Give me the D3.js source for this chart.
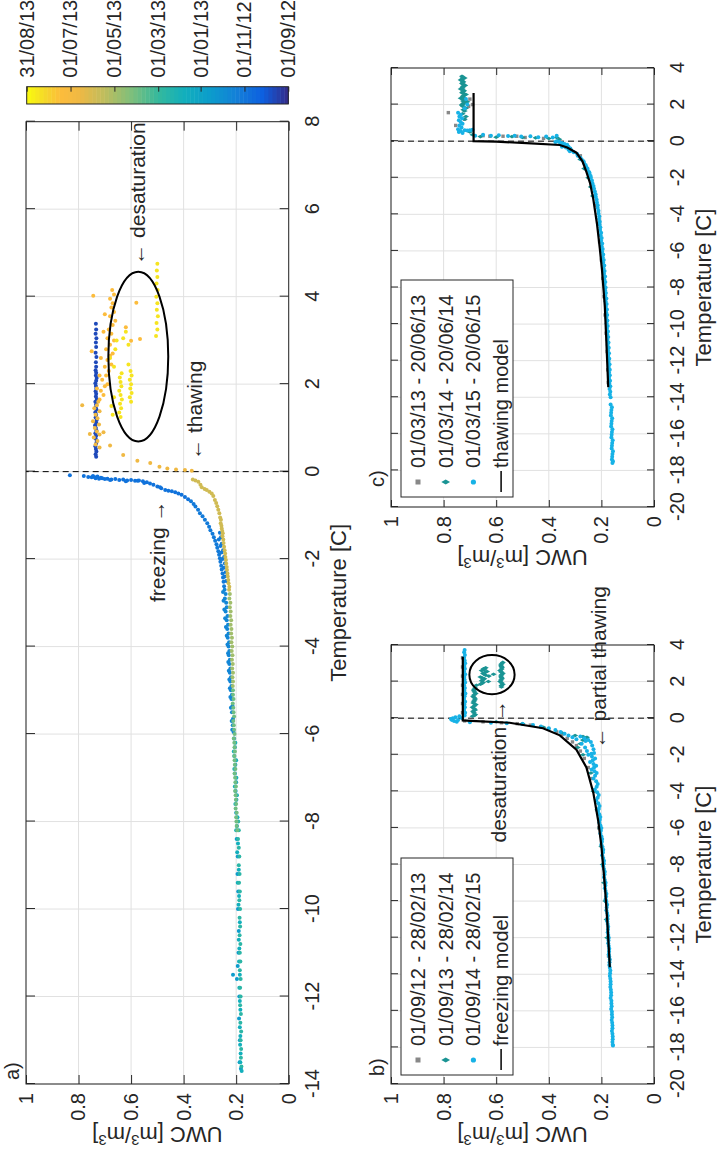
<!DOCTYPE html>
<meta charset="utf-8">
<script src="https://d3js.org/d3.v7.min.js"></script>
<style>
  body { margin: 0; background: #fff; }
  text { font-family: "Liberation Sans", Arial, Helvetica, sans-serif; fill: #262626; }
</style>
<div id="vis"></div>
<script>

// ---------- data: panel a, points [temperature, UWC], one date per group ----------
var sep12Pts = [[0.34,.733],[0.4,.735],[0.46,.732],[0.52,.734],[0.58,.736],[0.64,.733],[0.7,.731],[0.76,.735],[0.82,.733],[0.88,.736],
  [0.94,.732],[1.0,.734],[1.06,.737],[1.12,.733],[1.18,.731],[1.24,.735],[1.3,.733],[1.36,.736],[1.42,.732],[1.48,.734],[1.54,.733],
  [1.6,.736],[1.66,.731],[1.72,.734],[1.78,.733],[1.84,.735],[1.9,.732],[1.96,.734],[2.02,.736],[2.08,.733],[2.14,.731],[2.2,.734],
  [2.26,.733],[2.32,.735],[2.4,.733],[2.5,.734],[2.62,.732],[2.72,.735],[2.85,.733],[2.95,.734],[3.05,.732],[3.15,.735],[3.25,.733],[3.38,.734]];
var freezeTopPts = [[-0.08,.833],[-0.1,.78],[-0.12,.763],[-0.1,.745],[-0.13,.738],[-0.15,.735],[-0.11,.728],[-0.16,.722],[-0.14,.715],
  [-0.17,.70],[-0.16,.69],[-0.18,.675],[-0.17,.66],[-0.19,.645],[-0.18,.63],[-0.2,.615],[-0.19,.60],[-0.21,.585],[-0.2,.57],[-0.22,.555],
  [-0.24,.54],[-0.27,.528],[-0.3,.515],[-0.34,.50],[-0.38,.485],[-0.42,.47],[-0.44,.458],[-0.45,.445],[-0.47,.432],[-0.5,.42],
  [-0.53,.408],[-0.58,.395],[-0.63,.383],[-0.13,.75],[-0.15,.71],[-0.19,.68],[-0.22,.62],[-0.21,.575],[-0.26,.55],[-0.36,.49]];
var freezeMidPts = [[-0.68,.372],[-0.74,.362],[-0.8,.355],[-0.87,.345],[-0.95,.338],[-1.02,.328],[-1.1,.319],[-1.18,.31],[-1.26,.303],
  [-1.34,.298],[-1.42,.29],[-1.5,.285],[-1.58,.28],[-1.66,.275],[-1.74,.272],[-1.82,.268],[-1.9,.265],[-1.98,.262],[-2.06,.26],
  [-2.15,.257],[-2.24,.255],[-2.33,.252],[-2.42,.25],[-2.52,.248],[-2.62,.246],[-1.4,.262],[-1.5,.258],[-1.65,.255],[-1.8,.25],
  [-1.95,.246],[-2.1,.243],[-2.3,.24],[-2.5,.238],[-1.55,.266],[-2.0,.252],[-1.7,.26],[-1.85,.256],[-2.2,.247],[-2.4,.244]];
var freezeColdPts = [[-2.7,.244],[-2.8,.24],[-2.9,.243],[-3.0,.238],[-3.1,.236],[-3.2,.24],[-3.3,.233],[-3.4,.236],[-3.5,.231],[-3.6,.234],
  [-3.7,.229],[-3.8,.232],[-3.9,.227],[-4.0,.229],[-4.1,.226],[-4.2,.228],[-4.3,.224],[-4.4,.226],[-4.5,.222],[-4.6,.224],[-4.7,.22],
  [-4.8,.222],[-4.9,.218],[-5.0,.22],[-5.1,.216],[-5.2,.218],[-5.35,.214],[-5.5,.216],[-5.65,.212],[-5.8,.213],[-5.95,.21],
  [-2.75,.25],[-2.95,.248],[-3.15,.245],[-3.35,.242],[-3.55,.239],[-3.75,.236],[-3.95,.233],[-4.15,.231],[-4.35,.23],[-4.55,.228],
  [-4.75,.226],[-4.95,.224],[-5.15,.222],[-5.4,.22],[-5.7,.217],[-5.9,.215]];
var winterPts = [[-6.1,.208],[-6.3,.205],[-6.5,.207],[-6.7,.203],[-6.9,.205],[-7.1,.2],[-7.3,.202],[-7.5,.199],[-7.8,.2],[-8.1,.197],
  [-8.4,.198],[-8.8,.194],[-9.2,.195],[-9.6,.192],[-10.0,.193],[-10.5,.19],[-11.0,.191],[-11.3,.194],[-11.5,.212],[-11.6,.197],
  [-12.0,.188],[-12.5,.189],[-13.0,.186],[-13.5,.187],[-13.65,.182]];
var midWinterPts = [[-6.2,.203],[-6.4,.209],[-6.6,.2],[-6.8,.207],[-7.0,.199],[-7.2,.205],[-7.4,.197],[-7.6,.203],[-7.9,.195],[-8.2,.2],
  [-8.5,.193],[-8.7,.196],[-9.1,.19],[-9.4,.194],[-9.7,.189],[-9.9,.191],[-10.3,.186],[-10.7,.19],[-10.9,.188],[-11.2,.189],
  [-11.5,.186],[-11.8,.188],[-12.1,.186],[-12.3,.184],[-12.7,.186],[-12.9,.184],[-13.1,.185],[-13.3,.183],[-13.5,.184],[-13.7,.179]];
var lateWinterPts = [[-8.0,.192],[-8.2,.19],[-8.4,.193],[-8.6,.19],[-8.8,.188],[-9.0,.19],[-9.2,.187],[-9.4,.189],[-9.6,.186],[-9.8,.188],
  [-10.0,.185],[-10.2,.187],[-10.4,.185],[-10.6,.187],[-10.8,.184],[-11.0,.186],[-11.2,.184],[-11.4,.186],[-11.6,.183],[-11.8,.185],
  [-12.0,.183],[-12.2,.185],[-12.4,.182],[-12.6,.184],[-12.8,.181],[-13.0,.183],[-13.2,.181],[-13.4,.182],[-13.6,.18]];
var springPts = [[-5.0,.212],[-5.2,.21],[-5.4,.211],[-5.6,.208],[-5.8,.209],[-6.0,.206],[-6.2,.207],[-6.4,.205],[-6.6,.206],[-6.8,.203],
  [-7.0,.204],[-7.2,.201],[-7.4,.202],[-7.6,.2],[-7.8,.198],[-8.0,.199],[-8.2,.196],[-5.1,.212],[-5.3,.213],[-5.5,.21],[-5.7,.211],
  [-5.9,.208],[-6.1,.209],[-6.3,.206],[-6.5,.207],[-6.7,.205],[-6.9,.206],[-7.1,.203],[-7.3,.204],[-7.5,.201],[-7.7,.202],[-7.9,.2],[-8.1,.198]];
var aprilPts = [[-2.8,.224],[-3.0,.222],[-3.2,.221],[-3.4,.219],[-3.6,.218],[-3.8,.216],[-4.0,.215],[-4.2,.214],[-4.4,.213],[-4.6,.212],
  [-4.8,.212],[-2.9,.226],[-3.1,.224],[-3.3,.222],[-3.5,.221],[-3.7,.219],[-3.9,.218],[-4.1,.217],[-4.3,.216],[-4.5,.215],[-4.7,.214],[-4.9,.213]];
var mayPts = [[-0.18,.365],[-0.2,.355],[-0.23,.344],[-0.3,.336],[-0.36,.331],[-0.4,.32],[-0.42,.312],[-0.46,.302],[-0.5,.293],[-0.56,.287],
  [-0.65,.281],[-0.72,.276],[-0.79,.272],[-0.87,.268],[-0.95,.264],[-1.05,.261],[-1.18,.259],[-1.3,.255],[-1.41,.251],[-1.55,.249],
  [-1.72,.246],[-1.87,.242],[-2.02,.239],[-2.18,.236],[-2.33,.233],[-2.48,.23],[-2.63,.226],[-1.1,.258],[-1.24,.256],[-1.36,.253],
  [-1.48,.252],[-1.63,.248],[-1.8,.244],[-1.95,.241],[-2.1,.238],[-2.25,.235],[-2.4,.232],[-2.55,.229],[-2.7,.227]];
var junePts = [[0.02,.369],[0.04,.395],[0.05,.429],[0.07,.462],[0.11,.492],[0.2,.527],[0.25,.576],[0.38,.63],[0.55,.72],[0.62,.735],
  [0.7,.728],[0.78,.742],[0.85,.72],[0.92,.73],[1.0,.738],[1.08,.722],[1.15,.745],[1.22,.728],[1.3,.735],[1.38,.72],[1.45,.74],
  [1.52,.73],[1.6,.725],[0.86,.757],[0.6,.68],[1.52,.786],[0.9,.705]];
var julyPts = [[1.65,.72],[1.75,.705],[1.85,.715],[1.95,.7],[2.0,.69],[2.1,.71],[2.2,.695],[2.3,.685],[2.4,.7],[2.45,.675],[2.55,.69],
  [2.65,.68],[2.75,.75],[2.7,.67],[2.8,.695],[2.9,.68],[3.0,.665],[3.05,.69],[3.15,.675],[3.25,.685],[3.35,.67],[3.45,.66],[3.55,.68],
  [3.65,.665],[3.75,.675],[3.85,.67],[3.95,.68],[4.05,.665],[4.15,.672],[4.02,.744],[3.86,.58],[3.03,.566],[3.3,.62],[2.99,.60],
  [2.6,.715],[2.2,.72],[1.9,.73],[3.6,.70],[3.2,.705]];
var augPts = [[3.1,.505],[3.25,.5],[3.4,.503],[3.55,.498],[3.7,.502],[3.85,.5],[4.0,.504],[4.15,.499],[4.3,.503],[4.45,.5],[4.6,.502],
  [4.75,.5],[1.25,.64],[1.35,.645],[1.45,.638],[1.55,.642],[1.65,.635],[1.75,.64],[1.85,.645],[1.95,.637],[2.05,.64],[2.15,.643],
  [2.25,.636],[1.6,.6],[1.7,.605],[1.8,.598],[1.9,.603],[2.0,.6],[2.1,.605],[2.2,.598],[2.3,.602],[1.3,.67],[1.5,.675],[1.7,.665],
  [2.4,.665],[2.6,.68],[2.8,.66],[3.0,.655],[3.2,.62],[3.05,.63],[2.9,.61],[2.45,.61]];
var groupDates = ["2012-09-22","2012-10-28","2012-11-06","2012-11-20","2012-12-20","2013-01-25","2013-02-20","2013-04-01","2013-04-28","2013-05-28","2013-06-22","2013-07-15","2013-08-15"];

// colorbar
var cbStart = "2012-09-01", cbEnd = "2013-08-31";
var cbTicks = ["2012-09-01","2012-11-01","2013-01-01","2013-03-01","2013-05-01","2013-07-01","2013-08-31"];

// ---------- data: panel b (freezing) ----------
var bGray = [[-0.15,.72],[-0.2,.65],[-0.25,.58],[-0.3,.52],[-0.38,.47],[-0.48,.43],[-0.6,.40],[-0.75,.37],[-0.9,.35],[-1.1,.33],[-1.3,.31],
  [-1.5,.295],[-1.8,.28],[-2.2,.265],[-2.7,.25],[-3.3,.24],[-4,.228],[-5,.218],[-6,.21],[-7,.2],[-8,.193],[-9,.188],[-10,.183],
  [-11,.18],[-12,.176],[-13,.173],[0.3,.728],[0.8,.728],[1.3,.728],[1.8,.728],[2.3,.728],[2.8,.728],[3.3,.728]];
var bTeal = [[0.1,.69],[0.2,.68],[0.3,.685],[0.45,.68],[0.6,.69],[0.75,.678],[0.9,.685],[1.05,.68],[1.2,.688],[1.35,.678],[1.5,.685],
  [1.65,.68],[1.8,.675],[0.15,.683],[0.38,.688],[0.52,.684],[0.68,.682],[0.83,.687],[0.98,.683],[1.13,.684],[1.28,.683],[1.43,.682],
  [1.58,.684],[1.85,.66],[1.95,.65],[2.05,.655],[2.15,.645],[2.25,.66],[2.35,.64],[2.45,.65],[2.55,.635],[2.65,.645],
  [2.75,.64],[2.0,.63],[2.3,.628],[2.6,.655],[1.9,.655],[2.1,.65],[2.2,.652],[2.4,.645],[2.5,.643],[2.7,.648],
  [1.7,.58],[1.85,.575],[2.0,.585],[2.15,.578],[2.3,.582],[2.45,.575],[2.6,.585],[2.75,.578],[2.9,.582],[3.05,.575],[2.4,.61],
  [1.78,.58],[1.93,.58],[2.08,.582],[2.23,.58],[2.38,.579],[2.53,.581],[2.68,.58],[2.83,.58],[2.98,.579],
  [-0.2,.6],[-0.3,.5],[-0.5,.42],[-0.8,.35],[-0.95,.3],[-1.0,.27],[-1.05,.255],
  [-1.1,.26],[-1.2,.27],[-1.4,.28],[-1.6,.29],[-2,.27],[-3,.24],[-4,.23],[-5,.215],[-6,.205],[-7,.2],[-8,.195],[-9,.19],[-10,.185],
  [-11,.18],[-12,.178]];
var bCyan = [[0.15,.72],[0.3,.718],[0.45,.722],[0.6,.719],[0.75,.721],[0.9,.718],[1.05,.722],[1.2,.72],[1.35,.717],[1.5,.721],
  [1.65,.719],[1.8,.722],[1.95,.718],[2.1,.72],[2.25,.721],[2.4,.718],[2.55,.722],[2.7,.719],[2.85,.721],[3.0,.718],[3.15,.72],
  [3.3,.722],[3.45,.719],[3.6,.722],[3.72,.72],[0.1,.74],[0.05,.755],[0,.765],[-0.05,.772],[-0.1,.768],[-0.15,.76],[-0.2,.75],
  [-0.1,.745],[0.0,.73],[-0.22,.7],[-0.25,.62],[-0.28,.56],[-0.32,.5],[-0.38,.46],[-0.45,.43],[-0.55,.4],[-0.65,.375],[-0.75,.355],
  [-0.85,.34],[-0.95,.325],[-1.05,.31],[-1.15,.295],[-1.0,.28],[-1.1,.265],[-1.2,.25],[-1.3,.24],[-1.25,.26],[-1.4,.275],[-1.5,.235],
  [-1.6,.262],[-1.7,.23],[-1.8,.255],[-1.9,.228],[-2.0,.25],[-2.2,.224],[-2.4,.243],[-2.6,.22],[-2.8,.237],[-3.0,.218],[-3.3,.23],
  [-3.6,.214],[-3.9,.225],[-4.2,.21],[-4.5,.22],[-4.8,.207],[-5.1,.213],[-5.4,.204],[-5.7,.208],[-6.0,.2],[-6.3,.204],[-6.6,.197],
  [-6.9,.2],[-7.2,.193],[-7.5,.197],[-7.8,.19],[-8.1,.193],[-8.4,.187],[-8.7,.19],[-9.0,.184],[-9.3,.187],[-9.6,.181],[-9.9,.184],
  [-10.2,.178],[-10.5,.181],[-10.8,.176],[-11.1,.178],[-11.4,.174],[-11.7,.176],[-12.0,.172],[-12.3,.174],[-12.6,.17],[-12.9,.172],
  [-13.2,.168],[-13.5,.17],[-13.8,.166],[-14.1,.168],[-14.4,.165],[-14.7,.166],[-15.0,.163],[-15.3,.165],[-15.6,.162],[-15.9,.163],
  [-16.2,.16],[-16.5,.161],[-16.8,.158],[-17.1,.16],[-17.4,.157],[-17.7,.158],[-17.9,.156],
  [-1.95,.238],[-2.1,.236],[-2.3,.233],[-2.5,.23],[-2.7,.228],[-2.9,.226],[-3.15,.224],[-3.45,.22],[-3.75,.218],[-4.05,.216],
  [-4.35,.214],[-4.65,.212],[-4.95,.21],[-5.25,.208],[-5.55,.206],[-5.85,.204],[-6.15,.202],[-6.45,.2],[-6.75,.198],[-7.05,.196],
  [-7.35,.194],[-7.65,.193],[-7.95,.191],[-8.25,.19],[-8.55,.188],[-8.85,.187],[-9.15,.185],[-9.45,.184],[-9.75,.182],[-10.05,.181],
  [-10.35,.18],[-10.65,.178],[-10.95,.177],[-11.25,.176],[-11.55,.175],[-11.85,.174],[-12.15,.173],[-12.45,.172],[-12.75,.171],
  [-13.05,.17],[-13.35,.169],[-13.65,.168],[-13.95,.167],[-14.25,.166],[-14.55,.165],[-14.85,.164],[-15.15,.163],[-15.45,.162],
  [-15.75,.161],[-16.05,.16],[-16.35,.159],[-16.65,.159],[-16.95,.158],[-17.25,.158],[-17.55,.157],[-17.85,.157]];
var freezeModel = [[-13.62,.168],[-11,.178],[-9.13,.187],[-7,.2],[-5.62,.212],[-4.06,.231],[-2.69,.257],[-1.72,.295],[-0.94,.358],
  [-0.55,.422],[-0.25,.549],[-0.16,.676],[-0.12,.727],[0,.727],[3.36,.727]];
var bLegend = ["01/09/12 - 28/02/13","01/09/13 - 28/02/14","01/09/14 - 28/02/15","freezing model"];

// ---------- data: panel c (thawing) ----------
var cGray = [[1.56,.782],[0.86,.754],[2.3,.70],[1.9,.705],[0.3,.65],[0.27,.624],[0.27,.574],[0.27,.522],[0.2,.49],[0.15,.42],
  [-0.3,.33],[-0.8,.28],[-1.5,.26],[-2.5,.235],[-3.5,.222],[-4.5,.214],[-5.5,.207],[-6.5,.2],[-7.5,.195],[-8.5,.19],[-9.5,.186],
  [-10.5,.182],[-11.5,.178],[-12.5,.176],[-13.2,.174],[2.0,.69],[1.2,.72]];
var cTeal = [[3.55,.73],[3.45,.72],[3.35,.735],[3.25,.725],[3.15,.73],[3.05,.718],[2.95,.728],[2.85,.735],[2.75,.722],[2.65,.73],
  [2.55,.715],[2.45,.727],[2.35,.735],[2.25,.72],[2.15,.71],[2.05,.725],[1.95,.73],[1.8,.715],[1.65,.72],[1.5,.728],[1.35,.715],
  [1.2,.72],[3.5,.727],[3.4,.728],[3.3,.73],[3.2,.727],[3.1,.725],[3.0,.726],[2.9,.728],[2.8,.727],[2.7,.726],[2.6,.724],[2.5,.723],
  [2.4,.725],[2.3,.727],[2.2,.726],[2.1,.722],[2.0,.73],[1.9,.726],[1.72,.725],
  [0.5,.70],[0.35,.69],[0.25,.66],[0.22,.6],[0.25,.54],[0.2,.5],[0.18,.45],[0.15,.4],[0.2,.37],[0.1,.36],[-1,.28],
  [-1.5,.265],[-2,.25],[-2.5,.24],[-3,.232]];
var cCyan = [[1.55,.745],[1.45,.735],[1.35,.74],[1.25,.73],[1.15,.742],[1.05,.735],[0.95,.728],[0.85,.74],[0.75,.732],[0.65,.745],
  [0.6,.72],[0.6,.70],[0.55,.735],[0.5,.742],[0.45,.728],[2.0,.71],[2.3,.715],[1.8,.72],[0.62,.69],[0.58,.71],[0.3,.68],[0.35,.65],
  [0.3,.62],[0.32,.59],[0.28,.555],[0.3,.53],[0.25,.505],[0.27,.47],[0.22,.44],[0.25,.41],[0.2,.385],[0.3,.37],[0,.37],[-0.05,.36],
  [-0.1,.35],[-0.15,.34],[-0.2,.33],[-0.25,.345],[-0.3,.325],[-0.35,.335],[-0.4,.318],[-0.45,.325],[-0.5,.315],[-0.55,.32],
  [-0.05,.375],[-0.15,.355],[-0.3,.35],[-0.6,.305],[-0.8,.29],[-1.0,.275],[-1.2,.266],[-1.4,.258],[-1.6,.252],[-1.8,.245],[-2.0,.24],
  [-2.3,.234],[-2.6,.228],[-2.9,.222],[-3.2,.218],[-3.5,.214],[-3.8,.211],[-4.1,.208],[-4.4,.206],[-4.7,.204],[-5.0,.201],[-5.3,.199],
  [-5.6,.197],[-5.9,.195],[-6.2,.193],[-6.5,.191],[-6.8,.189],[-7.1,.188],[-7.4,.186],[-7.7,.185],[-8.0,.184],[-8.3,.183],[-8.6,.181],
  [-8.9,.18],[-9.2,.179],[-9.5,.178],[-9.8,.177],[-10.1,.176],[-10.4,.175],[-10.7,.174],[-11.0,.173],[-11.3,.172],[-11.6,.171],
  [-11.9,.17],[-12.2,.169],[-12.5,.168],[-12.8,.168],[-13.1,.167],[-13.4,.166],[-13.7,.166],[-14.0,.165],[-14.4,.165],[-14.7,.162],
  [-15.0,.164],[-15.3,.161],[-15.6,.163],[-15.9,.16],[-16.2,.162],[-16.5,.159],[-16.8,.161],[-17.1,.158],[-17.4,.16],[-17.6,.158],
  [-0.7,.292],[-0.9,.28],[-1.1,.268],[-1.3,.26],[-1.5,.253],[-1.7,.246],[-1.9,.241],[-2.15,.236],[-2.45,.23],[-2.75,.225],
  [-3.05,.221],[-3.35,.217],[-3.65,.214],[-3.95,.211],[-4.25,.209],[-4.55,.207],[-4.85,.205],[-5.15,.203],[-5.45,.201],[-5.75,.199],
  [-6.05,.197],[-6.35,.195],[-6.65,.193],[-6.95,.192],[-7.25,.19],[-7.55,.189],[-7.85,.188],[-8.15,.186],[-8.45,.185],[-8.75,.184],
  [-9.05,.183],[-9.35,.182],[-9.65,.181],[-9.95,.18],[-10.25,.179],[-10.55,.178],[-10.85,.177],[-11.15,.176],[-11.45,.175],
  [-11.75,.174],[-12.05,.173],[-12.35,.172],[-12.65,.171],[-12.95,.171],[-13.25,.17],[-13.55,.169],[-13.85,.168],
  [-14.55,.16],[-14.85,.163],[-15.15,.159],[-15.45,.162],[-15.75,.158],[-16.05,.161],[-16.35,.157],[-16.65,.16],[-16.95,.156],
  [-17.25,.159],[-17.5,.156]];
var thawModel = [[-13.45,.174],[-11,.181],[-9.03,.187],[-7,.198],[-5.88,.206],[-4.5,.217],[-3.15,.231],[-2.3,.243],[-1.68,.257],
  [-1.1,.272],[-0.63,.295],[-0.35,.33],[-0.21,.358],[-0.105,.485],[-0.03,.6],[0,.686],[2.63,.686]];
var cLegend = ["01/03/13 - 20/06/13","01/03/14 - 20/06/14","01/03/15 - 20/06/15","thawing model"];

var uTicks = [0, 0.2, 0.4, 0.6, 0.8, 1];
var tTicksA = [-14,-12,-10,-8,-6,-4,-2,0,2,4,6,8];
var tTicksBC = [-20,-18,-16,-14,-12,-10,-8,-6,-4,-2,0,2,4];

// ---------- drawing ----------
var parula = d3.scaleLinear()
  .domain([0, .1, .2, .3, .4, .5, .6, .7, .8, .87, .93, 1])
  .range(["#352a87","#0d5fe0","#1380d8","#0c9ccc","#12afbc","#35b99d","#7dbf7c","#bcbd5f","#efb944","#fcbc3c","#f5d72a","#f9fb0e"]);
var parse = d3.timeParse("%Y-%m-%d");
var tScale = d3.scaleTime().domain([parse(cbStart), parse(cbEnd)]).range([0, 1]);

var svg = d3.select("#vis").append("svg").attr("width", 717).attr("height", 1159);
// whole figure is drawn landscape and turned a quarter turn
var root = svg.append("g").attr("transform", "translate(0,1159) rotate(-90)");
var ink = "#262626";

function panel(p) {
  var x = d3.scaleLinear().domain(p.tDom).range([p.left, p.right]);
  var y = d3.scaleLinear().domain([0, 1]).range([p.bottom, p.top]);
  var g = root.append("g");
  g.append("g").selectAll("line").data(p.tTicks).join("line")
    .attr("x1", d => x(d)).attr("x2", d => x(d)).attr("y1", p.top).attr("y2", p.bottom)
    .attr("stroke", "#e1e1e1");
  g.append("g").selectAll("line").data(uTicks).join("line")
    .attr("x1", p.left).attr("x2", p.right).attr("y1", d => y(d)).attr("y2", d => y(d))
    .attr("stroke", "#e1e1e1");
  var ax = [
    g.append("g").attr("transform", "translate(0," + p.bottom + ")")
      .call(d3.axisBottom(x).tickValues(p.tTicks).tickSize(-p.tl).tickPadding(16).tickFormat(d => String(d))),
    g.append("g").attr("transform", "translate(0," + p.top + ")")
      .call(d3.axisTop(x).tickValues(p.tTicks).tickSize(-p.tl).tickFormat("")),
    g.append("g").attr("transform", "translate(" + p.left + ",0)")
      .call(d3.axisLeft(y).tickValues(uTicks).tickSize(-p.tl).tickPadding(9).tickFormat(d => String(d))),
    g.append("g").attr("transform", "translate(" + p.right + ",0)")
      .call(d3.axisRight(y).tickValues(uTicks).tickSize(-p.tl).tickFormat(""))
  ];
  ax.forEach(a => {
    a.select(".domain").remove();
    a.selectAll("line").attr("stroke", ink);
    a.attr("font-size", 20).attr("font-family", null);
    a.selectAll("text").attr("fill", ink);
  });
  g.append("line").attr("x1", x(0)).attr("x2", x(0)).attr("y1", y(0)).attr("y2", y(1))
    .attr("stroke", "#000").attr("stroke-dasharray", "6,4");
  var dataG = g.append("g");
  var top = g.append("g");
  top.append("rect").attr("x", p.left).attr("y", p.top).attr("width", p.right - p.left).attr("height", p.bottom - p.top)
    .attr("fill", "none").attr("stroke", ink).attr("stroke-width", 1);
  top.append("text").attr("x", (p.left + p.right) / 2).attr("y", p.bottom + 57).attr("text-anchor", "middle")
    .attr("font-size", 22).text("Temperature [C]");
  var yl = top.append("text").attr("text-anchor", "middle").attr("font-size", 22)
    .attr("transform", "translate(" + (p.left - 43) + "," + ((p.top + p.bottom) / 2) + ") rotate(-90)");
  yl.append("tspan").text("UWC [m");
  yl.append("tspan").attr("font-size", 15).attr("dy", -8).text("3");
  yl.append("tspan").attr("dy", 8).text("/m");
  yl.append("tspan").attr("font-size", 15).attr("dy", -8).text("3");
  yl.append("tspan").attr("dy", 8).text("]");
  top.append("text").attr("x", p.left + p.tagDx).attr("y", p.top - 7).attr("font-size", 20).text(p.tag);
  return { x: x, y: y, data: dataG, top: top, p: p };
}

function dots(P, pts, color, kind) {
  var sel = P.data.append("g").selectAll(null).data(pts);
  if (kind === "square") {
    sel.join("rect").attr("x", d => P.x(d[0]) - 1.7).attr("y", d => P.y(d[1]) - 1.7)
      .attr("width", 3.4).attr("height", 3.4).attr("fill", color);
  } else if (kind === "diamond") {
    sel.join("path").attr("d", d3.symbol(d3.symbolDiamond, 11))
      .attr("transform", d => "translate(" + P.x(d[0]) + "," + P.y(d[1]) + ")").attr("fill", color);
  } else {
    sel.join("circle").attr("cx", d => P.x(d[0])).attr("cy", d => P.y(d[1])).attr("r", 2).attr("fill", color);
  }
}

function note(P, t, u, str, anchor) {
  P.top.append("text").attr("x", P.x(t)).attr("y", P.y(u)).attr("dy", "0.35em")
    .attr("text-anchor", anchor || "start").attr("font-size", 21).text(str);
}

function ellipse(P, t, u, rt, ru) {
  P.top.append("ellipse").attr("cx", P.x(t)).attr("cy", P.y(u))
    .attr("rx", P.x(t + rt) - P.x(t)).attr("ry", P.y(u) - P.y(u + ru))
    .attr("fill", "none").attr("stroke", "#000").attr("stroke-width", 2);
}

// panel a
var A = panel({ left: 75, right: 1037.3, top: 26, bottom: 288.7, tDom: [-14, 8], tTicks: tTicksA, tl: 9, tag: "a)", tagDx: 4 });
var groupsA = [sep12Pts, freezeTopPts, freezeMidPts, freezeColdPts, winterPts, midWinterPts, lateWinterPts, springPts, aprilPts, mayPts, junePts, julyPts, augPts];
groupsA.forEach((pts, i) => dots(A, pts, parula(tScale(parse(groupDates[i]))), "circle"));
ellipse(A, 2.63, 0.5725, 1.94, 0.114);
note(A, 4.73, 0.575, "\u2190 desaturation");
note(A, 0.27, 0.357, "\u2190 thawing");
note(A, -2.98, 0.5, "freezing \u2192");

// colorbar
var cb = { left: 1055, right: 1072.3, top: 26.7, bottom: 288.3 };
var cbY = d3.scaleTime().domain([parse(cbStart), parse(cbEnd)]).range([cb.bottom, cb.top]);
var bands = d3.range(64);
root.append("g").selectAll("rect").data(bands).join("rect")
  .attr("x", cb.left).attr("width", cb.right - cb.left)
  .attr("y", d => cb.bottom - (d + 1) * (cb.bottom - cb.top) / 64)
  .attr("height", (cb.bottom - cb.top) / 64 + 0.5)
  .attr("fill", d => parula((d + 0.5) / 64));
var cbAxis = root.append("g").attr("transform", "translate(" + cb.right + ",0)")
  .call(d3.axisRight(cbY).tickValues(cbTicks.map(parse)).tickSize(-5).tickPadding(9).tickFormat(d3.timeFormat("%d/%m/%y")));
cbAxis.select(".domain").remove();
cbAxis.attr("font-size", 20).attr("font-family", null);
cbAxis.selectAll("line").attr("stroke", ink);
cbAxis.selectAll("text").attr("fill", ink);
root.append("rect").attr("x", cb.left).attr("y", cb.top).attr("width", cb.right - cb.left).attr("height", cb.bottom - cb.top)
  .attr("fill", "none").attr("stroke", ink);

// panels b and c
var cGrayCol = "#888888", cTealCol = "#1a9494", cCyanCol = "#17b2e6";
function legend(P, labels, x0, y0) {
  var lg = P.top.append("g");
  lg.append("rect").attr("x", x0).attr("y", y0).attr("width", 217).attr("height", 112)
    .attr("fill", "#fff").attr("stroke", ink);
  labels.forEach((s, i) => {
    var cy = y0 + 17 + i * 27.7;
    lg.append("text").attr("x", x0 + 29).attr("y", cy).attr("dy", "0.35em").attr("font-size", 20).text(s);
    var mx = x0 + 15;
    if (i === 0) lg.append("rect").attr("x", mx - 2.5).attr("y", cy - 2.5).attr("width", 5).attr("height", 5).attr("fill", cGrayCol);
    if (i === 1) lg.append("path").attr("d", d3.symbol(d3.symbolDiamond, 22)).attr("transform", "translate(" + mx + "," + cy + ")").attr("fill", cTealCol);
    if (i === 2) lg.append("circle").attr("cx", mx).attr("cy", cy).attr("r", 2.6).attr("fill", cCyanCol);
    if (i === 3) lg.append("line").attr("x1", x0 + 5).attr("x2", x0 + 26).attr("y1", cy).attr("y2", cy).attr("stroke", "#000").attr("stroke-width", 1.5);
  });
}
var line = P => d3.line().x(d => P.x(d[0])).y(d => P.y(d[1]));

var B = panel({ left: 75, right: 514, top: 391, bottom: 654, tDom: [-20, 4], tTicks: tTicksBC, tl: 7, tag: "b)", tagDx: 8 });
dots(B, bGray, cGrayCol, "square");
dots(B, bTeal, cTealCol, "diamond");
dots(B, bCyan, cCyanCol, "circle");
B.data.append("path").attr("d", line(B)(freezeModel)).attr("fill", "none").attr("stroke", "#000").attr("stroke-width", 2.2);
ellipse(B, 2.38, 0.616, 1.07, 0.086);
note(B, -6.79, 0.59, "desaturation \u2192");
note(B, -1.65, 0.212, "\u2190 partial thawing");
legend(B, bLegend, 84, 401);

var C = panel({ left: 652, right: 1091, top: 391, bottom: 654, tDom: [-20, 4], tTicks: tTicksBC, tl: 7, tag: "c)", tagDx: 20 });
dots(C, cGray, cGrayCol, "square");
dots(C, cTeal, cTealCol, "diamond");
dots(C, cCyan, cCyanCol, "circle");
C.data.append("path").attr("d", line(C)(thawModel)).attr("fill", "none").attr("stroke", "#000").attr("stroke-width", 2.2);
legend(C, cLegend, 662, 401);

</script>
